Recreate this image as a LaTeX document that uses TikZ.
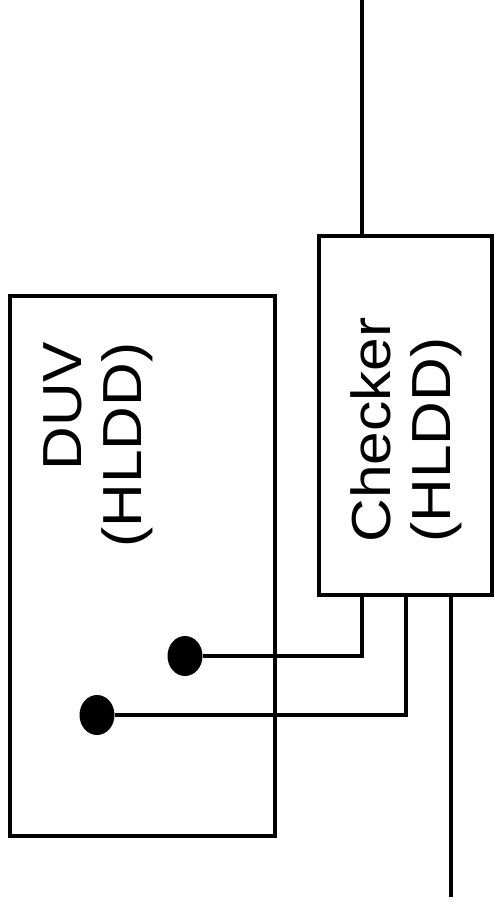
\documentclass[tikz,border=0pt]{standalone}
\usepackage{fontspec}
\setmainfont{Liberation Sans}
\usepackage{tikz}
\usetikzlibrary{calc,positioning,shapes.geometric}
\tikzset{
  blk/.style={draw=black,line width=4pt,rectangle,inner sep=0pt,outer sep=0pt},
  lbl/.style={rotate=90,xscale=1.1,inner sep=0pt,font=\fontsize{55}{60}\selectfont},
  wire/.style={draw=black,line width=4pt},
  dot/.style={ellipse,fill=black,minimum width=35pt,minimum height=40pt,inner sep=0pt}
}
\begin{document}
\begin{tikzpicture}[x=1pt,y=-1pt]
\useasboundingbox (0,0) rectangle (494,911);
\node[blk,minimum width=265pt,minimum height=540pt] (duv) at (142,566) {};
\node[blk,minimum width=173pt,minimum height=359pt] (chk) at (405.5,415.5) {};
\node[lbl,align=right] (duvtxt) at (98,445) {DUV\\(HLDD)};
\node[lbl,align=left] (chktxt) at (406,430) {Checker\\(HLDD)};
\node[dot] (dotA) at (185,656) {};
\node[dot] (dotB) at (97,715) {};
\coordinate (topin) at (362,0);
\coordinate (botout) at (451,897);
\draw[wire] (topin) -- ($(chk.north west)+(43,0)$);
\draw[wire] (dotA) -| ($(chk.south west)+(43,0)$);
\draw[wire] (dotB) -| ($(chk.south west)+(87,0)$);
\draw[wire] ($(chk.south west)+(132,0)$) -- (botout);
\end{tikzpicture}
\end{document}
